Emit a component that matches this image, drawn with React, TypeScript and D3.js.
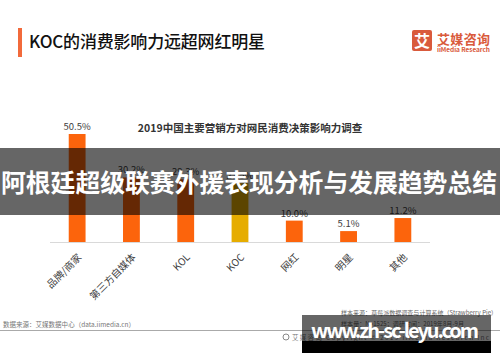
import { useRef, useEffect } from 'react'
import * as d3 from 'd3'

const categories = ['品牌/商家', '第三方自媒体', 'KOL', 'KOC', '网红', '明星', '其他']
const values = [50.5, 30.2, 29.3, 27.5, 10.0, 5.1, 11.2]
const highlight = 'KOC'

const title = 'KOC的消费影响力远超网红明星'
const chartTitle = '2019中国主要营销方对网民消费决策影响力调查'
const banner = '阿根廷超级联赛外援表现分析与发展趋势总结'
const sourceLeft = '数据来源：艾媒数据中心（data.iimedia.cn）'
const sampleLines = [
  '样本来源：草莓派数据调查与计算系统（Strawberry Pie）',
  '样本量：N=1525；调研时间：2019年8月-9月',
]
const sampleWidths = [156, 123]
const copyright = '艾媒咨询 Copyright © 2019 iiMedia Research Inc'
const watermark = 'www.zh-sc-leyu.com'

const FONT = '"Noto Sans CJK SC", "Noto Sans", sans-serif'

const App = () => {
  const ref = useRef<SVGSVGElement>(null)

  useEffect(() => {
    if (!ref.current) return
    const width = 500
    const height = 362
    const svg = d3.select(ref.current)
    svg.selectAll('*').remove()
    svg.attr('width', width).attr('height', height).style('font-family', FONT)

    svg.append('rect').attr('width', width).attr('height', height).attr('fill', '#fff')

    // header
    svg.append('rect').attr('x', 18).attr('y', 28).attr('width', 4).attr('height', 29).attr('fill', '#f26a3b')
    svg.append('text').attr('x', 29).attr('y', 47.5).attr('font-size', 17).attr('fill', '#111')
      .attr('font-weight', 500).attr('textLength', 236).text(title)

    // logo
    const logo = svg.append('g')
    logo.append('rect').attr('x', 412).attr('y', 30).attr('width', 20).attr('height', 21).attr('rx', 2).attr('fill', '#d95a3c')
    logo.append('text').attr('x', 422).attr('y', 47).attr('text-anchor', 'middle').attr('font-size', 16)
      .attr('font-weight', 700).attr('fill', '#fff').text('艾')
    logo.append('text').attr('x', 437).attr('y', 44).attr('font-size', 13).attr('font-weight', 700)
      .attr('fill', '#d95a3c').attr('textLength', 53).text('艾媒咨询')
    logo.append('text').attr('x', 437).attr('y', 51.5).attr('font-size', 6.5).attr('font-weight', 700)
      .attr('fill', '#d95a3c').attr('textLength', 53).text('iiMedia Research')

    // chart title
    svg.append('text').attr('x', 250).attr('y', 132).attr('text-anchor', 'middle').attr('font-size', 10.5)
      .attr('font-weight', 700).attr('fill', '#333').text(chartTitle)

    const x = d3.scaleBand().domain(categories).range([50, 430]).paddingInner(0.69).paddingOuter(0.345)
    const y = d3.scaleLinear().domain([0, 50.5]).range([242, 134])

    svg.append('line').attr('x1', 50).attr('x2', 430).attr('y1', 242.5).attr('y2', 242.5)
      .attr('stroke', '#d9d9d9').attr('stroke-width', 1)

    const g = svg.append('g')
    g.selectAll('rect.bar').data(values).enter().append('rect')
      .attr('class', 'bar')
      .attr('x', (_, i) => x(categories[i])!)
      .attr('width', x.bandwidth())
      .attr('y', (d) => y(d))
      .attr('height', (d) => y(0) - y(d))
      .attr('fill', (_, i) => (categories[i] === highlight ? '#e6ad00' : '#fc640c'))

    g.selectAll('text.val').data(values).enter().append('text')
      .attr('class', 'val')
      .attr('x', (_, i) => x(categories[i])! + x.bandwidth() / 2)
      .attr('y', (d) => y(d) - 4)
      .attr('text-anchor', 'middle').attr('font-size', 9.5).attr('fill', '#404040')
      .text((d) => d.toFixed(1) + '%')

    g.selectAll('text.cat').data(categories).enter().append('text')
      .attr('class', 'cat')
      .attr('transform', (d) => `translate(${x(d)! + x.bandwidth() / 2 + 5},258) rotate(-45)`)
      .attr('text-anchor', 'end').attr('font-size', 10).attr('fill', '#404040')
      .text((d) => d)

    // footer
    svg.append('text').attr('x', 3).attr('y', 327).attr('font-size', 6.5).attr('fill', '#777')
      .attr('textLength', 132).text(sourceLeft)
    svg.selectAll('text.sample').data(sampleLines).enter().append('text')
      .attr('class', 'sample').attr('x', 341).attr('y', (_, i) => 315 + i * 10.5)
      .attr('font-size', 6).attr('fill', '#666')
      .attr('textLength', (_, i) => sampleWidths[i]).text((d) => d)
    svg.append('line').attr('x1', 0).attr('x2', 500).attr('y1', 330.5).attr('y2', 330.5)
      .attr('stroke', '#aaa').attr('stroke-width', 1)
    svg.append('circle').attr('cx', 286).attr('cy', 337).attr('r', 3).attr('fill', 'none').attr('stroke', '#888')
    svg.append('text').attr('x', 292).attr('y', 339.5).attr('font-size', 6.5).attr('fill', '#777')
      .attr('textLength', 197).text(copyright)

    // overlay banner
    svg.append('rect').attr('x', 0).attr('y', 148).attr('width', 500).attr('height', 67).attr('fill', 'rgba(0,0,0,0.6)')
    svg.append('text').attr('x', 1).attr('y', 192).attr('font-size', 24.8)
      .attr('font-weight', 700).attr('fill', '#fff').attr('textLength', 496).text(banner)

    // watermark
    svg.append('rect').attr('x', 302).attr('y', 315).attr('width', 189).attr('height', 26).attr('fill', 'rgba(0,0,0,0.6)')
    svg.append('rect').attr('x', 302).attr('y', 341).attr('width', 189).attr('height', 12).attr('fill', '#000')
    svg.append('text').attr('x', 311).attr('y', 338).attr('font-size', 20)
      .attr('font-weight', 700).attr('fill', '#fff').attr('textLength', 168).text(watermark)
  }, [])

  return (
    <div style={{ position: 'absolute', left: 0, top: 0, width: 500, height: 362 }}>
      <svg ref={ref} style={{ display: 'block' }} />
    </div>
  )
}

export default App
